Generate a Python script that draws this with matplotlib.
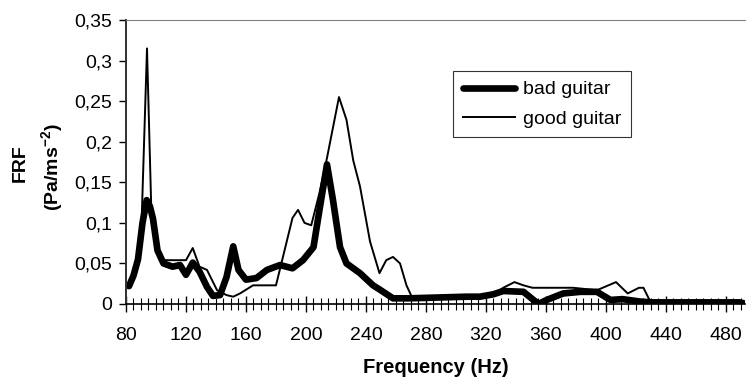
import matplotlib
matplotlib.use('Agg')
import matplotlib.pyplot as plt
from matplotlib.ticker import MultipleLocator, FuncFormatter

plt.rcParams['font.family'] = ['Liberation Sans', 'DejaVu Sans']
plt.rcParams['mathtext.fontset'] = 'custom'
plt.rcParams['mathtext.rm'] = 'Liberation Sans'
plt.rcParams['mathtext.bf'] = 'Liberation Sans:bold'

# values
freq_bad = [82, 85, 88, 91, 93.8, 96, 98, 101, 105, 111, 116, 120, 124.5, 129, 134, 138,
            142.7, 147, 151.5, 155, 160, 167, 174, 182.7, 191, 198, 205, 209, 214, 218,
            222.7, 227, 236, 244.7, 249, 258, 269, 307, 316, 325, 331.5, 345, 355, 360.5,
            371.5, 383, 394, 403, 411, 422.7, 431, 489, 494]
frf_bad = [0.022, 0.035, 0.055, 0.10, 0.128, 0.12, 0.105, 0.066, 0.05, 0.046, 0.048, 0.036,
           0.051, 0.04, 0.021, 0.01, 0.011, 0.033, 0.071, 0.042, 0.03, 0.032, 0.042, 0.048,
           0.044, 0.054, 0.07, 0.116, 0.172, 0.128, 0.07, 0.05, 0.038, 0.023, 0.018, 0.007,
           0.007, 0.009, 0.009, 0.012, 0.016, 0.015, 0.0, 0.005, 0.013, 0.015, 0.015, 0.005,
           0.006, 0.003, 0.002, 0.002, 0.0]

freq_good = [82, 87, 90.5, 94, 97, 102.7, 116, 120, 124.5, 129, 134, 140.7, 147, 151.5, 156,
             164.7, 180, 191, 194.7, 199, 203.5, 209, 214, 222, 227, 231.5, 236, 242.7, 249,
             253.5, 258, 262.7, 267, 270.5, 300, 325, 331.5, 339, 345, 351, 378, 394, 406.7,
             414.5, 422, 425, 429, 440, 489, 494]
frf_good = [0.022, 0.054, 0.107, 0.315, 0.107, 0.054, 0.054, 0.054, 0.069, 0.046, 0.042, 0.017,
            0.011, 0.009, 0.013, 0.023, 0.023, 0.106, 0.116, 0.10, 0.097, 0.137, 0.18, 0.255,
            0.227, 0.177, 0.145, 0.077, 0.038, 0.054, 0.058, 0.05, 0.023, 0.009, 0.007, 0.012,
            0.02, 0.027, 0.023, 0.02, 0.02, 0.017, 0.027, 0.013, 0.02, 0.02, 0.005, 0.002,
            0.002, 0.0]

x_ticks = list(range(80, 481, 40))

fig = plt.figure(figsize=(7.47, 3.83), dpi=100)
ax = fig.add_axes([126 / 747, 79 / 383, 619 / 747, 284 / 383])

ax.plot(freq_bad, frf_bad, color='black', lw=4.8, solid_joinstyle='round',
        solid_capstyle='round', label='bad guitar')
ax.plot(freq_good, frf_good, color='black', lw=1.4, label='good guitar')

ax.set_xlim(80, 492.7)
ax.set_ylim(0, 0.35)
ax.set_xticks(x_ticks)
ax.xaxis.set_minor_locator(MultipleLocator(5))
ax.yaxis.set_major_locator(MultipleLocator(0.05))

ax.yaxis.set_major_formatter(FuncFormatter(lambda v, p: ('%g' % round(v, 2)).replace('.', ',')))

ax.tick_params(axis='x', which='major', direction='inout', length=11, width=1, labelsize=14, pad=11)
ax.tick_params(axis='x', which='minor', direction='inout', length=8, width=0.8)
ax.tick_params(axis='y', direction='out', length=5, width=1, labelsize=14, pad=5)

ax.spines['right'].set_visible(False)
ax.spines['top'].set_color('#808080')
ax.spines['top'].set_linewidth(0.8)
ax.spines['left'].set_color('#303030')
ax.spines['left'].set_linewidth(1.4)
ax.spines['bottom'].set_linewidth(1.2)

ax.set_xlabel('Frequency (Hz)', fontsize=14.5, fontweight='bold', labelpad=10)
fig.text(20 / 747, 1 - 163 / 383, 'FRF', rotation=90, fontsize=14, fontweight='bold',
         ha='center', va='center')
fig.text(52 / 747, 1 - 167 / 383, r'$\mathbf{(Pa/ms^{-2})}$', rotation=90, fontsize=14,
         ha='center', va='center')

leg = ax.legend(loc='upper left', bbox_to_anchor=(0.528, 0.82), fontsize=14, frameon=True,
                fancybox=False, handlelength=2.7, handletextpad=0.4, borderpad=0.5,
                labelspacing=0.6, borderaxespad=0)
leg.get_frame().set_edgecolor('black')
leg.get_frame().set_linewidth(0.8)

fig.savefig('out.png', dpi=100)
